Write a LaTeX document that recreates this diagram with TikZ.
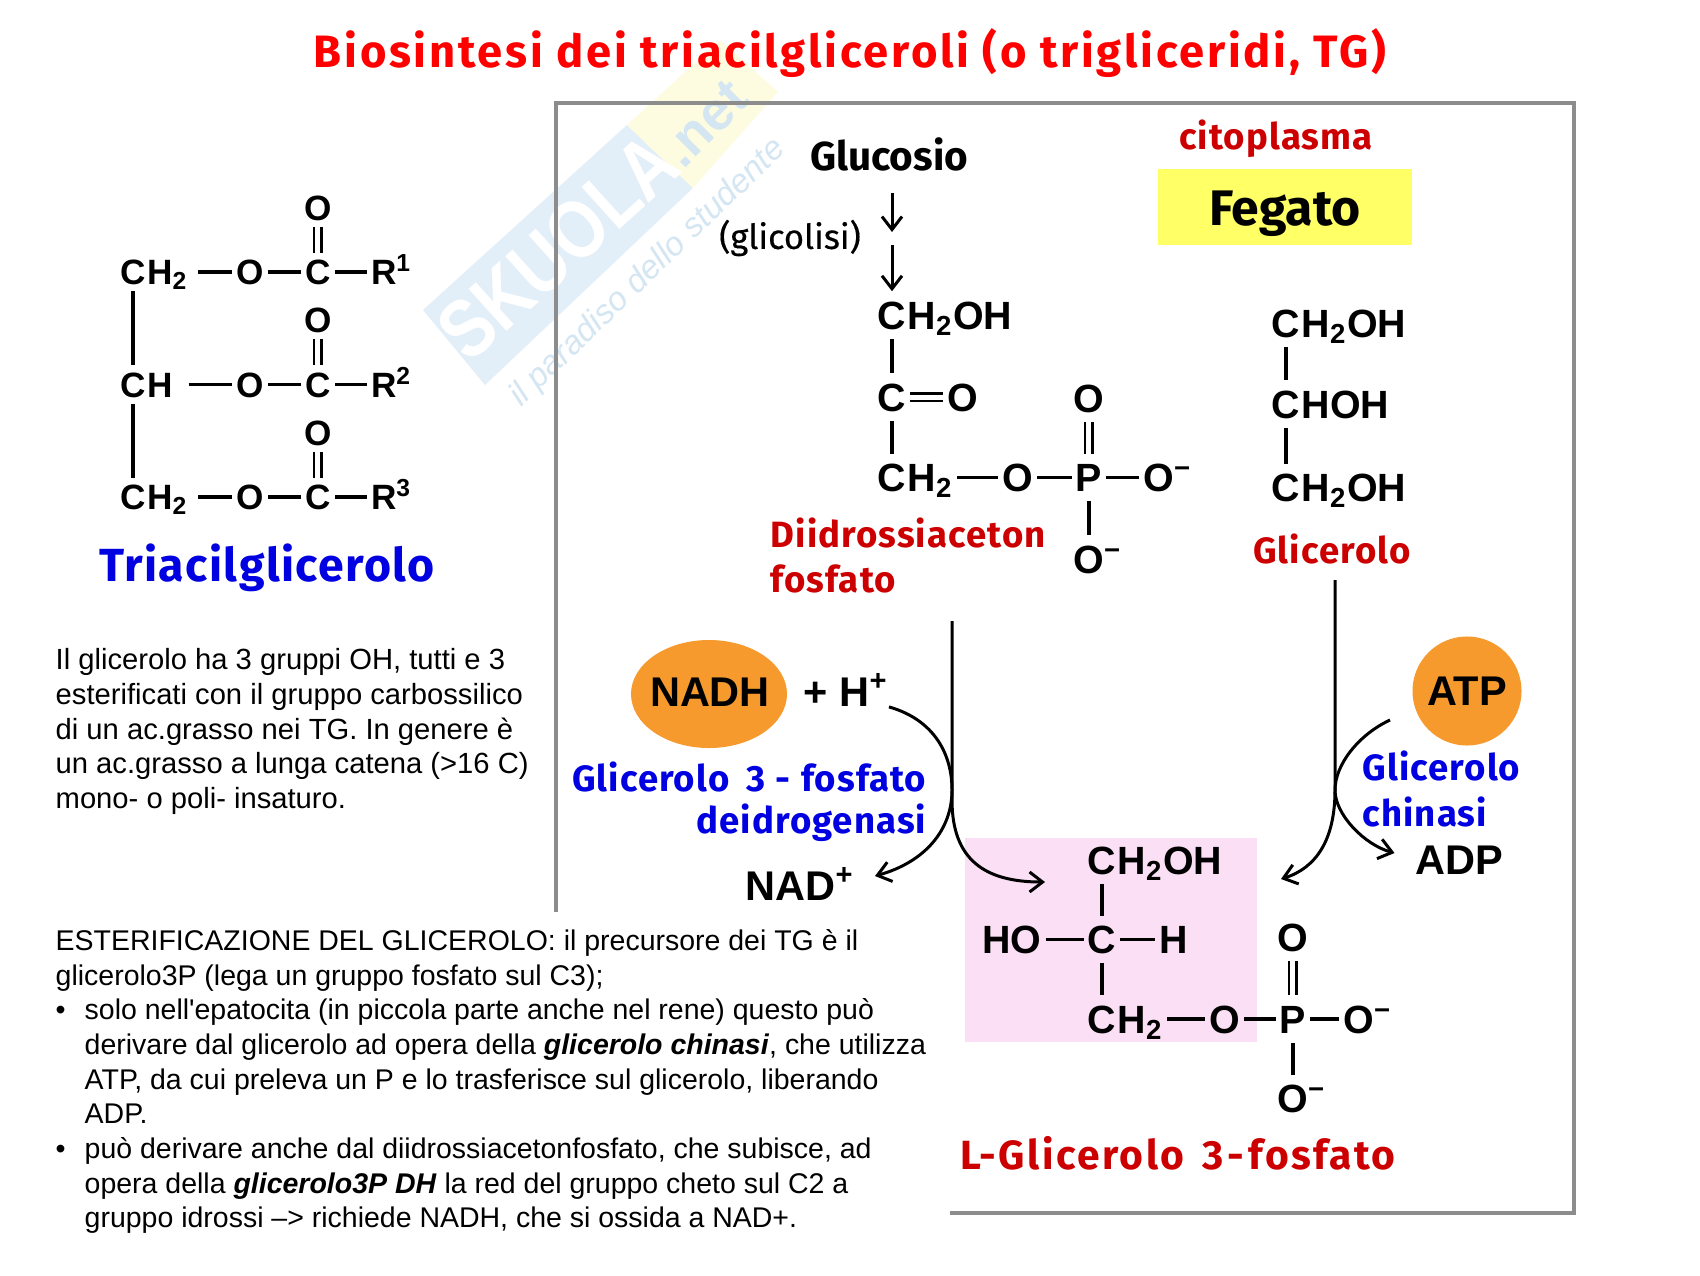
\documentclass[tikz,border=0pt]{standalone}
\usepackage{fontspec}
\setmainfont[Ligatures=Common]{Liberation Sans}
\newfontfamily\apice{Liberation Sans}
\newfontfamily\comicfont{Fira Sans}
\newfontfamily\comicmed[FakeBold=0.4]{Fira Sans}
\newfontfamily\comiclab[LetterSpace=3]{Fira Sans}
\newfontfamily\comicwide[LetterSpace=6]{Fira Sans}
\usepackage{xcolor}
\usetikzlibrary{arrows.meta,positioning,calc}

\definecolor{rosso}{HTML}{CC0000}
\definecolor{blu}{HTML}{0000E0}
\definecolor{arancio}{HTML}{F79A2E}
\definecolor{giallo}{HTML}{FFFF66}
\definecolor{rosa}{HTML}{FBDFF5}
\definecolor{cornice}{HTML}{8C8C8C}
\definecolor{marchio}{HTML}{E3EFF8}
\definecolor{marchiotxt}{HTML}{D5E6F3}
\definecolor{marchiog}{HTML}{FDFCE0}

\newcommand{\ind}{\hspace*{0.29cm}}
\newcommand{\pallino}{\makebox[0.29cm][l]{•}}

\begin{document}
\begin{tikzpicture}[
        x=0.01cm,y=-0.01cm,
        atomo/.style={inner xsep=1pt,inner ysep=0.06cm,text height=7.2pt,text depth=0pt,font=\bfseries\fontsize{10}{12}\selectfont},
        atomob/.style={inner xsep=1pt,inner ysep=0.09cm,text height=8pt,text depth=0pt,font=\bfseries\fontsize{11.2}{13}\selectfont},
        cofattore/.style={inner sep=0pt,font=\bfseries\fontsize{11.8}{13}\selectfont},
        legame/.style={line width=1pt},
        doppio/.style={double,double distance=0.05cm,line width=0.8pt},
        freccia/.style={line width=0.85pt,-{Straight Barb[length=0.13cm,width=0.2cm]}},
        etrosso/.style={text=rosso,inner sep=0pt,font=\comiclab\bfseries\fontsize{10.4}{12}\selectfont},
        etblu/.style={text=blu,inner sep=0pt,font=\comiclab\bfseries\fontsize{10.4}{12}\selectfont},
        testo/.style={inner sep=0pt,align=left,anchor=north west}
    ]
        \useasboundingbox (0,0) rectangle (1700,1275);
        \fill[white] (0,0) rectangle (1700,1275);

        % marchio
        \fill[marchio] (423,310) -- (485,385) -- (693,188) -- (627,125) -- cycle;
        \fill[marchiog] (627,125) -- (693,188) -- (778,92) -- (720,40) -- cycle;
        \node[rotate=42,yscale=1.2,text=white,inner sep=0pt,font=\bfseries\fontsize{19.5}{22}\selectfont] (skuola) at (558,247) {SKUOLA};
        \node[rotate=45,text=marchiotxt,inner sep=0pt,font=\bfseries\fontsize{15.5}{18}\selectfont] (net) at (705,124) {.net};
        \node[rotate=44,text=marchiotxt,inner sep=0pt,font=\itshape\fontsize{9.5}{12}\selectfont] (motto) at (648,273) {il paradiso dello studente};

        % titolo e cornice
        \node[text=red,inner sep=0pt,font=\comicwide\bfseries\fontsize{12.9}{15}\selectfont] (titolo) at (850,53) {Biosintesi dei triacilgliceroli (o trigliceridi, TG)};
        \draw[cornice,line width=1.1pt] (556,912) -- (556,103) -- (1574,103) -- (1574,1213) -- (950,1213);

        \fill[rosa] (965,838) rectangle (1257,1042);
        \node[fill=giallo,minimum width=2.54cm,minimum height=0.75cm] (fegato) at (1285,207) {};
        \node[inner sep=0pt,font=\comicfont\bfseries\fontsize{14.2}{16}\selectfont] (fegatotxt) at (1285,214) {Fegato};
        \node[etrosso] (citoplasma) at (1276,139) {citoplasma};
        \node[inner sep=0pt,font=\comicfont\bfseries\fontsize{11.5}{13}\selectfont] (glucosio) at (889,154) {Glucosio};
        \node[inner sep=0pt,font=\comicmed\fontsize{9.8}{12}\selectfont] (glicolisi) at (790,238) {(glicolisi)};

        % triacilglicerolo
        \node[atomo] (ca) at (133,272) {C};
        \node[atomo,right=-2pt of ca] (ha) {H\textsubscript{2}};
        \node[atomo,right=0.40cm of ha] (oa) {O};
        \node[atomo,right=0.33cm of oa] (cca) {C};
        \node[atomo,right=0.32cm of cca] (ra) {R\rlap{\textsuperscript{1}}};
        \node[atomo,above=0.257cm of cca] (dba) {O};
        \node[atomo,below=0.737cm of ca] (cb) {C};
        \node[atomo,right=-2pt of cb] (hb) {H};
        \node[atomo,below=0.737cm of oa] (ob) {O};
        \node[atomo,right=0.33cm of ob] (ccb) {C};
        \node[atomo,right=0.32cm of ccb] (rb) {R\rlap{\textsuperscript{2}}};
        \node[atomo,above=0.257cm of ccb] (dbb) {O};
        \node[atomo,below=0.737cm of cb] (cc) {C};
        \node[atomo,right=-2pt of cc] (hc) {H\textsubscript{2}};
        \node[atomo,below=0.737cm of ob] (oc) {O};
        \node[atomo,right=0.33cm of oc] (ccc) {C};
        \node[atomo,right=0.32cm of ccc] (rc) {R\rlap{\textsuperscript{3}}};
        \node[atomo,above=0.257cm of ccc] (dbc) {O};
        \draw[legame,shorten <=0.06cm] (ha) -- (oa);
        \draw[legame] (oa) -- (cca);
        \draw[legame] (cca) -- (ra);
        \draw[doppio] (cca) -- (dba);
        \draw[legame,shorten <=0.12cm] (hb) -- (ob);
        \draw[legame] (ob) -- (ccb);
        \draw[legame] (ccb) -- (rb);
        \draw[doppio] (ccb) -- (dbb);
        \draw[legame,shorten <=0.06cm] (hc) -- (oc);
        \draw[legame] (oc) -- (ccc);
        \draw[legame] (ccc) -- (rc);
        \draw[doppio] (ccc) -- (dbc);
        \draw[legame] (ca) -- (cb);
        \draw[legame] (cb) -- (cc);
        \node[text=blu,inner sep=0pt,font=\comiclab\bfseries\fontsize{13.2}{15}\selectfont] (triacil) at (267,568) {Triacilglicerolo};

        % testi
        \node[testo,font=\fontsize{8.3}{9.83}\selectfont] (nota) at (55,648) {Il glicerolo ha 3 gruppi OH, tutti e 3\\esterificati con il gruppo carbossilico\\di un ac.grasso nei TG. In genere è\\un ac.grasso a lunga catena (>16 C)\\mono- o poli- insaturo.};
        \node[testo,font=\fontsize{8.1}{9.85}\selectfont] (esterif) at (55,929) {ESTERIFICAZIONE DEL GLICEROLO: il precursore dei TG è il\\glicerolo3P (lega un gruppo fosfato sul C3);\\\pallino solo nell{\apice '}epatocita (in piccola parte anche nel rene) questo può\\\ind derivare dal glicerolo ad opera della \textbf{\textit{glicerolo chinasi}}, che utilizza\\\ind ATP, da cui preleva un P e lo trasferisce sul glicerolo, liberando\\\ind ADP.\\\pallino può derivare anche dal diidrossiacetonfosfato, che subisce, ad\\\ind opera della \textbf{\textit{glicerolo3P DH}} la red del gruppo cheto sul C2 a\\\ind gruppo idrossi –> richiede NADH, che si ossida a NAD+.};

        % diidrossiacetonfosfato
        \node[atomob] (da) at (892,315) {C};
        \node[atomob,right=-2pt of da] (dah) {H\textsubscript{2}OH};
        \node[atomob,below=0.345cm of da] (db) {C};
        \node[atomob,right=0.33cm of db] (dbo) {O};
        \node[atomob,below=0.33cm of db] (dc) {C};
        \node[atomob,right=-2pt of dc] (dch) {H\textsubscript{2}};
        \node[atomob,right=0.41cm of dch] (dco) {O};
        \node[atomob,right=0.34cm of dco] (dp) {P};
        \node[atomob,right=0.33cm of dp] (dpo) {O\rlap{\textsuperscript{−}}};
        \node[atomob,above=0.315cm of dp] (dpa) {O};
        \node[atomob,below=0.34cm of dp] (dpb) {O\rlap{\textsuperscript{−}}};
        \draw[legame] (da) -- (db);
        \draw[legame] (db) -- (dc);
        \draw[doppio] (db) -- (dbo);
        \draw[legame] (dch) -- (dco);
        \draw[legame] (dco) -- (dp);
        \draw[legame] (dp) -- (dpo);
        \draw[doppio] (dp) -- (dpa);
        \draw[legame] (dp) -- (dpb);
        \node[etrosso,anchor=west] (diidro) at (770,533) {Diidrossiaceton};
        \node[etrosso,anchor=west] (fosfato) at (770,579) {fosfato};

        % glicerolo
        \node[atomob] (ga) at (1286,323) {C};
        \node[atomob,right=-2pt of ga] (gah) {H\textsubscript{2}OH};
        \node[atomob,below=0.335cm of ga] (gb) {C};
        \node[atomob,right=-2pt of gb] (gbh) {HOH};
        \node[atomob,below=0.36cm of gb] (gc) {C};
        \node[atomob,right=-2pt of gc] (gch) {H\textsubscript{2}OH};
        \draw[legame] (ga) -- (gb);
        \draw[legame] (gb) -- (gc);
        \node[etrosso] (glicerolo) at (1332,549) {Glicerolo};

        % glicerolo 3-fosfato
        \node[atomob] (la) at (1102,860) {C};
        \node[atomob,right=-2pt of la] (lah) {H\textsubscript{2}OH};
        \node[atomob,below=0.32cm of la] (lb) {C};
        \node[atomob,left=0.38cm of lb] (lho) {HO};
        \node[atomob,right=0.35cm of lb] (lh) {H};
        \node[atomob,below=0.32cm of lb] (lc) {C};
        \node[atomob,right=-2pt of lc] (lch) {H\textsubscript{2}};
        \node[atomob,right=0.38cm of lch] (lo) {O};
        \node[atomob,right=0.31cm of lo] (lp) {P};
        \node[atomob,right=0.29cm of lp] (lpo) {O\rlap{\textsuperscript{−}}};
        \node[atomob,above=0.34cm of lp] (lpa) {O};
        \node[atomob,below=0.32cm of lp] (lpb) {O\rlap{\textsuperscript{−}}};
        \draw[legame] (la) -- (lb);
        \draw[legame] (lb) -- (lc);
        \draw[legame] (lho) -- (lb);
        \draw[legame] (lb) -- (lh);
        \draw[legame] (lch) -- (lo);
        \draw[legame] (lo) -- (lp);
        \draw[legame] (lp) -- (lpo);
        \draw[doppio] (lp) -- (lpa);
        \draw[legame] (lp) -- (lpb);
        \node[text=rosso,inner sep=0pt,font=\comicwide\bfseries\fontsize{11.6}{14}\selectfont] (lglicerolo) at (1178,1153) {L-Glicerolo\hspace{0.15em} 3\hspace{0.1em}-\hspace{0.1em}fosfato};

        % cofattori
        \node[circle,fill=arancio,minimum size=1.09cm,inner sep=0pt] (atpc) at (1467,691) {};
        \node[cofattore] (atp) at (atpc) {ATP};
        \fill[arancio] (709,694) ellipse (78 and 54);
        \node[cofattore] (nadh) at (710,692) {NADH};
        \node[cofattore] (hplus) at (846,690) {+ H\textsuperscript{+}};
        \node[cofattore] (nadp) at (800,884) {NAD\textsuperscript{+}};
        \node[cofattore] (adp) at (1459,860) {ADP};
        \node[etblu,anchor=east] (gdh) at (927,777) {Glicerolo\hspace{0.2em} 3\hspace{0.28em}-\hspace{0.28em}fosfato};
        \node[etblu,anchor=east] (gdh2) at (927,823) {deidrogenasi};
        \node[etblu,anchor=west] (gk) at (1362,766) {Glicerolo};
        \node[etblu,anchor=west] (gk2) at (1362,812) {chinasi};

        % frecce
        \coordinate (glui) at (892,193);
        \coordinate (gluf) at (892,232);
        \coordinate (glii) at (892,245);
        \coordinate (gain) at (952,621);
        \coordinate (gaf) at (1045,882);
        \coordinate (gln) at (1335,580);
        \coordinate (glf) at (1281,879);
        \coordinate (atpi) at (1390,720);
        \draw[freccia] (glui) -- (gluf);
        \draw[freccia] (glii) -- (da.north);
        \draw[freccia] (gain) -- (952,800) .. controls (952,860) and (985,882) .. (gaf);
        \draw[freccia] (hplus.south east) .. controls (935,720) and (952,755) .. (952,790) .. controls (952,830) and (925,862) .. ($(nadp.east)+(20,-8)$);
        \draw[freccia] (gln) -- (1335,790) .. controls (1335,840) and (1316,868) .. (glf);
        \draw[freccia] (atpi) .. controls (1358,735) and (1335,765) .. (1335,790) .. controls (1335,815) and (1365,845) .. ($(adp.west)+(-20,-7)$);
    \end{tikzpicture}
\end{document}
